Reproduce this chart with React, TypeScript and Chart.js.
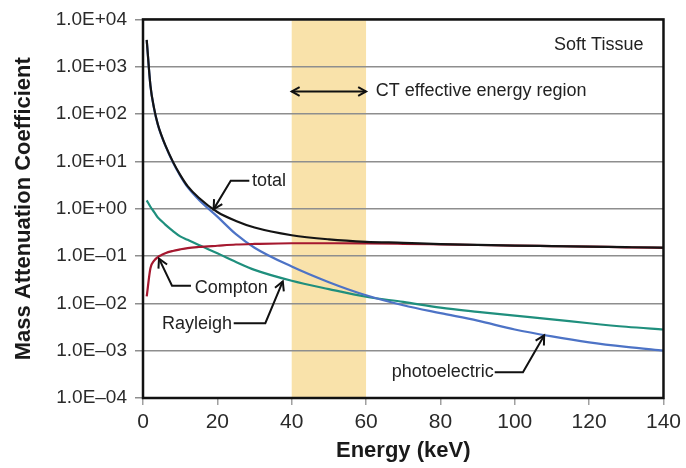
import React, { useEffect, useRef } from "react";
import { Chart, registerables } from "chart.js";

Chart.register(...registerables);

// ---- data ----
const energies = [1, 2, 3, 4, 5, 6, 8, 10, 12, 15, 20, 25, 30, 40, 50, 60, 70, 80, 90, 100, 110, 120, 130, 140];
const totalValues = [3700, 400, 130, 60, 35, 22, 10, 5.2, 3.0, 1.7, 0.85, 0.55, 0.40, 0.275, 0.225, 0.20, 0.19, 0.178, 0.172, 0.166, 0.162, 0.158, 0.154, 0.150];
const photoelectricValues = [3650, 395, 128, 59, 34, 21.5, 9.7, 5.0, 2.85, 1.55, 0.68, 0.29, 0.15, 0.060, 0.028, 0.0148, 0.0091, 0.0062, 0.0043, 0.0028, 0.0020, 0.0015, 0.0012, 0.0010];
const rayleighValues = [1.5, 1.1, 0.85, 0.65, 0.55, 0.46, 0.34, 0.26, 0.22, 0.17, 0.114, 0.075, 0.051, 0.030, 0.020, 0.0138, 0.0107, 0.0081, 0.0066, 0.0055, 0.0046, 0.0038, 0.0032, 0.0028];
const comptonValues = [0.014, 0.055, 0.08, 0.095, 0.105, 0.115, 0.128, 0.138, 0.147, 0.155, 0.165, 0.175, 0.18, 0.186, 0.186, 0.185, 0.181, 0.176, 0.171, 0.166, 0.162, 0.158, 0.153, 0.149];

const yTickValues = [1e-4, 1e-3, 1e-2, 1e-1, 1e0, 1e1, 1e2, 1e3, 1e4];
const yTickLabels = ["1.0E\u201304", "1.0E\u201303", "1.0E\u201302", "1.0E\u201301", "1.0E+00", "1.0E+01", "1.0E+02", "1.0E+03", "1.0E+04"];
const xTickStep = 20;
const xRange = [0, 140];

const ctBand = [40, 60];
const ctLabel = "CT effective energy region";
const ctLabelAnchor = [62.6, 300];
const tissueLabel = "Soft Tissue";
const tissueAnchor = [134.6, 2850];

// callouts: label, text anchor [E, value], leader path [[E, value], ...] ending at the arrow tip
const calloutLabels = ["total", "Compton", "Rayleigh", "photoelectric"];
const calloutAnchors = [[29.3, 3.9], [13.9, 0.0215], [5.1, 0.0037], [66.9, 0.00035]];
const calloutPaths = [
  [[28.6, 3.9], [23.6, 3.9], [19.0, 0.98]],
  [[12.9, 0.0235], [7.8, 0.0235], [4.3, 0.088]],
  [[24.4, 0.0038], [32.9, 0.0038], [37.6, 0.029]],
  [[94.6, 0.00035], [102.2, 0.00035], [107.9, 0.0021]],
];

const FONT = "'Liberation Sans', Arial, Helvetica, sans-serif";

function arrowHead(ctx: CanvasRenderingContext2D, fx: number, fy: number, tx: number, ty: number, len = 10) {
  const ang = Math.atan2(ty - fy, tx - fx);
  const spread = 0.5;
  ctx.beginPath();
  ctx.moveTo(tx - len * Math.cos(ang - spread), ty - len * Math.sin(ang - spread));
  ctx.lineTo(tx, ty);
  ctx.lineTo(tx - len * Math.cos(ang + spread), ty - len * Math.sin(ang + spread));
  ctx.stroke();
}

const annotPlugin = {
  id: "annot",
  beforeDraw(chart: any) {
    const { ctx, chartArea: a, scales } = chart;
    const x = scales.x;
    const x0 = x.getPixelForValue(ctBand[0]);
    const x1 = x.getPixelForValue(ctBand[1]);
    ctx.save();
    ctx.fillStyle = "#F9E2AA";
    ctx.fillRect(x0, a.top, x1 - x0, a.bottom - a.top);
    ctx.restore();
  },
  afterDatasetsDraw(chart: any) {
    const { ctx, chartArea: a, scales } = chart;
    const x = scales.x;
    const y = scales.y;
    const px = (e: number) => x.getPixelForValue(e);
    const py = (v: number) => y.getPixelForValue(v);
    ctx.save();
    // plot border
    ctx.strokeStyle = "#111";
    ctx.lineWidth = 2.5;
    ctx.strokeRect(a.left, a.top, a.right - a.left, a.bottom - a.top);

    ctx.fillStyle = "#222";
    ctx.font = `18px ${FONT}`;
    ctx.textBaseline = "middle";

    // Soft Tissue
    ctx.textAlign = "right";
    ctx.fillText(tissueLabel, px(tissueAnchor[0]), py(tissueAnchor[1]));

    // CT region label and double arrow
    ctx.textAlign = "left";
    ctx.fillText(ctLabel, px(ctLabelAnchor[0]), py(ctLabelAnchor[1]));
    const ay = py(ctLabelAnchor[1]);
    const ax0 = px(ctBand[0]);
    const ax1 = px(ctBand[1]);
    ctx.strokeStyle = "#111";
    ctx.lineWidth = 2;
    ctx.beginPath();
    ctx.moveTo(ax0, ay);
    ctx.lineTo(ax1, ay);
    ctx.stroke();
    arrowHead(ctx, ax1, ay, ax0, ay, 9);
    arrowHead(ctx, ax0, ay, ax1, ay, 9);

    // callouts
    calloutLabels.forEach((label, i) => {
      const [te, tv] = calloutAnchors[i];
      ctx.textAlign = "left";
      ctx.fillText(label, px(te), py(tv));
      const pts = calloutPaths[i].map(([e, v]) => [px(e), py(v)]);
      ctx.lineWidth = 2;
      ctx.beginPath();
      pts.forEach(([qx, qy], k) => (k === 0 ? ctx.moveTo(qx, qy) : ctx.lineTo(qx, qy)));
      ctx.stroke();
      const n = pts.length;
      arrowHead(ctx, pts[n - 2][0], pts[n - 2][1], pts[n - 1][0], pts[n - 1][1], 10);
    });
    ctx.restore();
  },
};

function series(values: number[]) {
  return energies.map((e, i) => ({ x: e, y: values[i] }));
}

export default function App() {
  const ref = useRef<HTMLCanvasElement>(null);
  useEffect(() => {
    const canvas = ref.current!;
    const common = { pointRadius: 0, borderWidth: 2.2, cubicInterpolationMode: "monotone" as const, fill: false };
    const chart = new Chart(canvas, {
      type: "line",
      data: {
        datasets: [
          { label: "total", data: series(totalValues), borderColor: "#141414", order: 0, ...common },
          { label: "Compton", data: series(comptonValues), borderColor: "#A5182F", order: 1, ...common },
          { label: "photoelectric", data: series(photoelectricValues), borderColor: "#4D73C6", order: 2, ...common },
          { label: "Rayleigh", data: series(rayleighValues), borderColor: "#1F8F7D", order: 3, ...common },
        ],
      },
      options: {
        responsive: false,
        animation: false,
        layout: { padding: { top: 16, right: 20, left: 0, bottom: 0 } },
        plugins: { legend: { display: false }, tooltip: { enabled: false } },
        scales: {
          x: {
            type: "linear",
            min: xRange[0],
            max: xRange[1],
            ticks: { stepSize: xTickStep, padding: 5, color: "#2a2a2a", font: { family: FONT, size: 21 } },
            grid: { drawOnChartArea: false, drawTicks: true, tickLength: 7, color: "#a0a0a0", lineWidth: 1.5 },
            border: { display: false },
            title: { display: true, text: "Energy (keV)", color: "#1a1a1a", font: { family: FONT, size: 22, weight: "bold" }, padding: { top: 0, bottom: 4 } },
            afterFit: (s: any) => { s.height = 70; },
          },
          y: {
            type: "logarithmic",
            min: yTickValues[0],
            max: yTickValues[yTickValues.length - 1],
            afterBuildTicks: (s: any) => { s.ticks = yTickValues.map((v) => ({ value: v })); },
            ticks: {
              padding: 8,
              color: "#2a2a2a",
              font: { family: FONT, size: 19 },
              callback: (v: any) => {
                const idx = yTickValues.findIndex((t) => Math.abs(Math.log10(t) - Math.log10(Number(v))) < 1e-6);
                return idx >= 0 ? yTickLabels[idx] : "";
              },
            },
            grid: { color: "#8e8e8e", lineWidth: 1.5, tickLength: 8 },
            border: { display: false },
            title: { display: true, text: "Mass Attenuation Coefficient", color: "#1a1a1a", font: { family: FONT, size: 22, weight: "bold" }, padding: { top: 11, bottom: 0 } },
            afterFit: (s: any) => { s.width = 143; },
          },
        },
      },
      plugins: [annotPlugin],
    } as any);
    return () => chart.destroy();
  }, []);
  return (
    <div style={{ position: "fixed", left: 0, top: 0, width: 686, height: 468, background: "#fff" }}>
      <canvas ref={ref} width={686} height={468} style={{ display: "block" }} />
    </div>
  );
}
